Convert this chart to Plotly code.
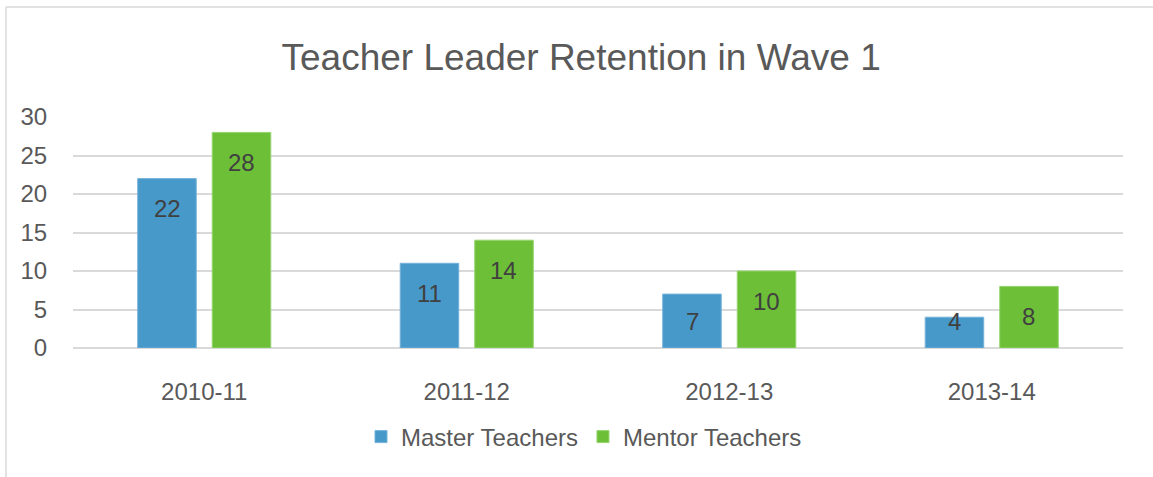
import plotly.graph_objects as go

categories = ["2010-11", "2011-12", "2012-13", "2013-14"]
master = [22, 11, 7, 4]
mentor = [28, 14, 10, 8]
series_names = ["Master Teachers", "Mentor Teachers"]
title_text = "Teacher Leader Retention in Wave 1"
y_ticks = [0, 5, 10, 15, 20, 25, 30]

FONT = "Liberation Sans, Arial, Helvetica, sans-serif"
BLUE = "#4799C9"
GREEN = "#6DBF38"
GRID = "#D9D9D9"
TXT = "#595959"

fig = go.Figure()
fig.add_trace(go.Bar(x=categories, y=master, name=series_names[0],
                     marker=dict(color=BLUE, line=dict(color="#74B2DA", width=1))))
fig.add_trace(go.Bar(x=categories, y=mentor, name=series_names[1],
                     marker=dict(color=GREEN, line=dict(color="#95D46E", width=1))))

# data labels (inside end, Excel style)
for vals, xs in ((master, -37), (mentor, 37)):
    for c, v in zip(categories, vals):
        fig.add_annotation(x=c, y=max(v - 3.9, 3.4), xref="x", yref="y",
                           text=str(v), showarrow=False, xshift=xs,
                           yanchor="middle",
                           font=dict(family=FONT, size=24, color="#404040"))

W, H = 1153, 477
ML, MR, MT, MB = 73, 30, 117, 129
pw, ph = W - ML - MR, H - MT - MB


def px2paper_x(px):
    return (px - ML) / pw


def py2paper_y(py):
    return (H - MB - py) / ph


# chart frame (left and top edges visible)
fig.add_shape(type="line", xref="paper", yref="paper",
              x0=px2paper_x(6), x1=px2paper_x(6), y0=py2paper_y(7), y1=py2paper_y(H + 5),
              line=dict(color=GRID, width=1.5))
fig.add_shape(type="line", xref="paper", yref="paper",
              x0=px2paper_x(6), x1=px2paper_x(W + 5), y0=py2paper_y(7), y1=py2paper_y(7),
              line=dict(color=GRID, width=1.5))

fig.update_layout(
    width=W, height=H,
    margin=dict(l=ML, r=MR, t=MT, b=MB),
    paper_bgcolor="white", plot_bgcolor="white",
    barmode="group", bargap=0.432, bargroupgap=0.215,
    font=dict(family=FONT, size=24, color=TXT),
    title=dict(text=title_text, x=0.504, xanchor="center", y=1 - 57 / H, yanchor="middle",
               font=dict(family=FONT, size=37, color=TXT)),
    showlegend=True,
    legend=dict(orientation="h", x=px2paper_x(584), xanchor="center",
                y=py2paper_y(437), yanchor="middle",
                font=dict(family=FONT, size=24, color=TXT),
                bgcolor="rgba(0,0,0,0)"),
    xaxis=dict(type="category", showgrid=False, showline=False, zeroline=False,
               ticks="outside", ticklen=22, tickcolor="rgba(0,0,0,0)",
               tickfont=dict(family=FONT, size=24, color=TXT)),
    yaxis=dict(range=[0, 30], tickvals=y_ticks, showgrid=True, gridcolor=GRID, gridwidth=2,
               zeroline=True, zerolinecolor=GRID, zerolinewidth=2, showline=False,
               ticks="outside", ticklen=20, tickcolor="rgba(0,0,0,0)",
               tickfont=dict(family=FONT, size=24, color=TXT)),
)

fig.write_html("out.html", config={"displayModeBar": False},
               post_script="document.body.style.margin='0px';")
